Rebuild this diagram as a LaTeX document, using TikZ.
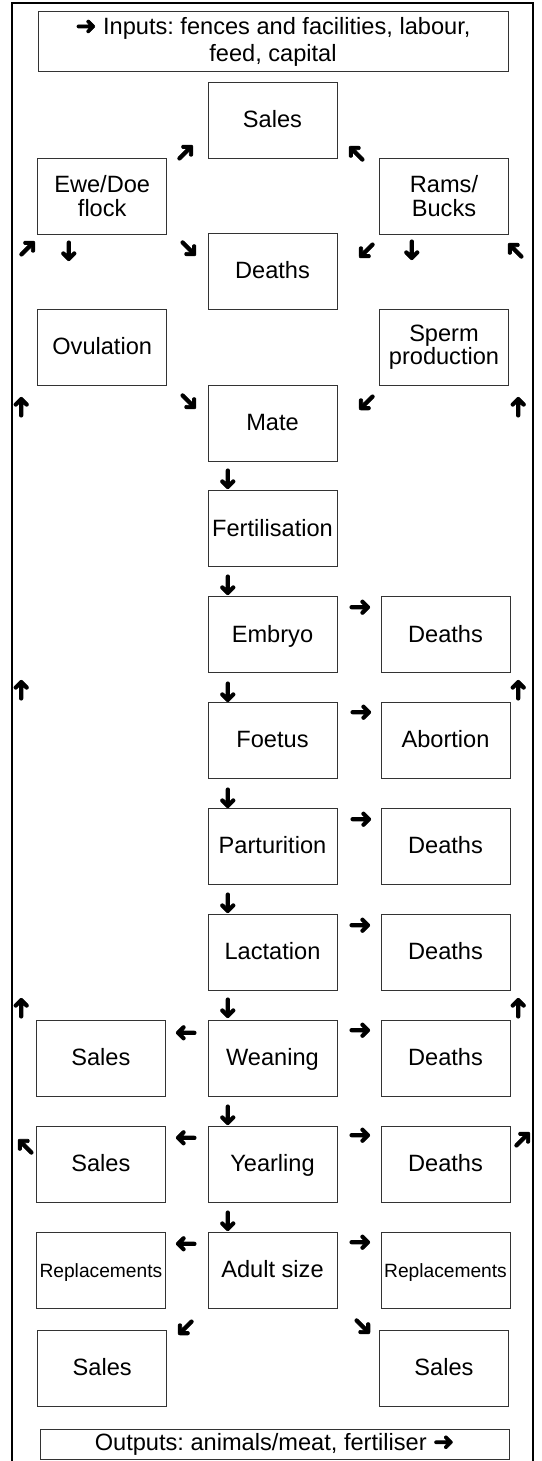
\documentclass[tikz,border=0pt]{standalone}
\usepackage{fontspec}
\setmainfont{Liberation Sans}
\newfontfamily\arrowfont{DejaVu Sans}[FakeBold=2.5]
\usetikzlibrary{positioning}
\frenchspacing

\tikzset{
  stage/.style={draw=black!80, line width=0.5pt, minimum width=64.5pt, minimum height=38pt,
    inner sep=1pt, align=center, text height=0.72em, text depth=0pt, font=\fontsize{11.8}{11.6}\selectfont},
  twoline/.style={text height=, text depth=},
  banner/.style={draw=black!80, line width=0.5pt, align=center, inner sep=1pt,
    font=\fontsize{11.8}{13.8}\selectfont},
  arrowmark/.style={inner sep=0pt, font=\arrowfont\fontsize{14}{14}\selectfont},
}
\newcommand{\heavyarrow}{{\arrowfont\fontsize{12.5}{13}\selectfont ➜}}

\begin{document}
\begin{tikzpicture}[x=0.5pt, y=-0.5pt]
  \useasboundingbox (0,0) rectangle (541,1461);
  % outer frame, open at the bottom
  \draw[line width=0.6pt] (12,1461) -- (12,3) -- (533,3) -- (533,1461);

  \node[banner, minimum width=235pt, minimum height=30pt] (inputs) at (273,42)
    {\heavyarrow\ Inputs: fences and facilities, labour,\\ feed, capital};

  % breeding flock
  \node[stage] (sales) at (272.5,120.5) {Sales};
  \node[stage, twoline] (ewes) at (102.2,196) {Ewe/Doe\\flock};
  \node[stage, twoline] (rams) at (444,196) {Rams/\\Bucks};
  \node[stage] (deaths) at (272.5,271.5) {Deaths};
  \node[stage] (ovul) at (102.2,347.5) {Ovulation};
  \node[stage, twoline] (sperm) at (444,347.5) {Sperm\\production};

  % progeny, from mating to adult size
  \foreach \nm/\txt [count=\i from 0] in {mate/Mate, fert/Fertilisation, embryo/Embryo,
      foetus/Foetus, partur/Parturition, lact/Lactation, wean/Weaning, year/Yearling, adult/Adult size}
    \node[stage] (\nm) at (272.5,423+105.9*\i) {\txt};

  \foreach \nm/\txt in {embryo/Deaths, foetus/Abortion, partur/Deaths, lact/Deaths, wean/Deaths, year/Deaths}
    \node[stage, right=21.5pt of \nm] (\nm-r) {\txt};
  \foreach \nm in {wean, year}
    \node[stage, left=20.8pt of \nm] (\nm-l) {Sales};
  \node[stage, font=\fontsize{9.6}{10}\selectfont, left=20.8pt of adult] (adult-l) {Replacements};
  \node[stage, font=\fontsize{9.6}{10}\selectfont, right=21.5pt of adult] (adult-r) {Replacements};
  \node[stage] (sales-l) at (102.2,1368) {Sales};
  \node[stage] (sales-r) at (444,1368) {Sales};

  \node[banner, minimum width=234.5pt, minimum height=15pt] (outputs) at (274.5,1444)
    {Outputs: animals/meat, fertiliser \heavyarrow};

  % free-standing arrow marks: x/y/visual angle
  \foreach \x/\y/\a [count=\n] in {186/153/45, 357/153/135, 28/249/45, 68/251/-90, 188/249/-45,
      366/250/-135, 411/250/-90, 516/250/135, 22/407/90, 188/402/-45, 366/402/-135, 519/407/90,
      227/479/-90, 227/585/-90, 360/608/0, 22/690/90, 519/690/90, 227/692/-90, 361/713/0,
      227/798/-90, 361/820/0, 227/903/-90, 360/926/0, 22/1008/90, 519/1008/90, 227/1008/-90,
      186/1032/180, 360/1031/0, 227/1115/-90, 26/1146/135, 186/1137/180, 360/1136/0,
      523/1140/45, 227/1221/-90, 186/1243/180, 360/1243/0, 185/1327/-135, 362/1327/-45}
    \node[arrowmark, rotate=\a] (mark\n) at (\x,\y) {➜};
\end{tikzpicture}
\end{document}
